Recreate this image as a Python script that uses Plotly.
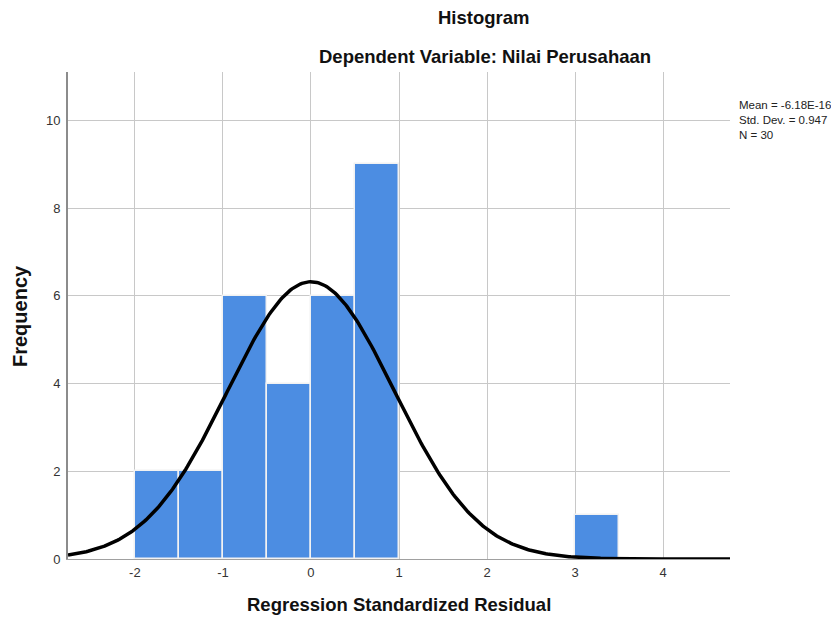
import numpy as np
import plotly.graph_objects as go

# Histogram bins (left edges, width 0.5) and frequencies
bin_left = [-2.0, -1.5, -1.0, -0.5, 0.0, 0.5, 3.0]
bin_width = 0.5
freq = [2, 2, 6, 4, 6, 9, 1]

# Summary statistics shown in the chart
mean_label = "-6.18E-16"
mean_val = -6.18e-16
std_val = 0.947
n_val = 30

x_ticks = [-2, -1, 0, 1, 2, 3, 4]
y_ticks = [0, 2, 4, 6, 8, 10]

x_range = [-2.76, 4.76]
y_range = [0, 11.1]

centers = [b + bin_width / 2 for b in bin_left]

# Normal curve scaled to counts (N * bin width * normal pdf)
xs = np.linspace(x_range[0], x_range[1], 400)
ys = n_val * bin_width * np.exp(-0.5 * ((xs - mean_val) / std_val) ** 2) / (std_val * np.sqrt(2 * np.pi))

# Figure geometry (page body has an 8px margin)
W, H = 831, 615
L, T, R, B = 60, 64, 109, 64
plot_w = W - L - R
plot_h = H - T - B

def px_x(px):
    return (px - L) / plot_w

def px_y(py):
    return 1 - (py - T) / plot_h

fig = go.Figure()
fig.add_trace(go.Bar(
    x=centers, y=freq, width=bin_width,
    marker=dict(color="#4C8DE2", line=dict(color="#F2F2F2", width=1.5)),
    showlegend=False, hoverinfo="skip",
))
fig.add_trace(go.Scatter(
    x=xs, y=ys, mode="lines",
    line=dict(color="black", width=3.5),
    showlegend=False, hoverinfo="skip",
))

font_family = "Liberation Sans, Arial, sans-serif"

stats_text = f"Mean = {mean_label}<br>Std. Dev. = {std_val}<br>N = {n_val}"

annotations = [
    dict(text="<b>Histogram</b>", xref="paper", yref="paper",
         x=px_x(476), y=px_y(9), yanchor="middle",
         showarrow=False, font=dict(size=18.5, color="#111111")),
    dict(text="<b>Dependent Variable: Nilai Perusahaan</b>", xref="paper", yref="paper",
         x=px_x(477), y=px_y(49), yanchor="middle",
         showarrow=False, font=dict(size=18.5, color="#111111")),
    dict(text="<b>Regression Standardized Residual</b>", xref="paper", yref="paper",
         x=0.5, y=px_y(596), yanchor="middle",
         showarrow=False, font=dict(size=18.5, color="#111111")),
    dict(text="<b>Frequency</b>", xref="paper", yref="paper",
         x=px_x(12), y=px_y(308), xanchor="center", yanchor="middle",
         textangle=-90, showarrow=False, font=dict(size=20, color="#111111")),
    dict(text=stats_text, xref="paper", yref="paper", x=px_x(729), y=px_y(112),
         xanchor="left", yanchor="middle", align="left", showarrow=False,
         font=dict(size=11.5, color="#222222", family=font_family)),
]

fig.update_layout(
    width=W, height=H,
    margin=dict(l=L, r=R, t=T, b=B, autoexpand=False),
    paper_bgcolor="white", plot_bgcolor="white",
    font=dict(family=font_family, color="#222222"),
    bargap=0,
    xaxis=dict(
        range=x_range, tickvals=x_ticks, ticktext=[str(v) for v in x_ticks],
        showgrid=True, gridcolor="#C8C8C8", gridwidth=1,
        zeroline=False, showline=True, linecolor="#A0A0A0", linewidth=1,
        ticks="", tickfont=dict(size=13, color="#333333"),
        ticklabelstandoff=1,
    ),
    yaxis=dict(
        range=y_range, tickvals=y_ticks, ticktext=[str(v) for v in y_ticks],
        showgrid=True, gridcolor="#C8C8C8", gridwidth=1,
        zeroline=False, showline=True, linecolor="#8C8C8C", linewidth=2,
        ticks="", tickfont=dict(size=13, color="#333333"),
        ticklabelstandoff=3,
    ),
    annotations=annotations,
)

fig.write_html("out.html")
